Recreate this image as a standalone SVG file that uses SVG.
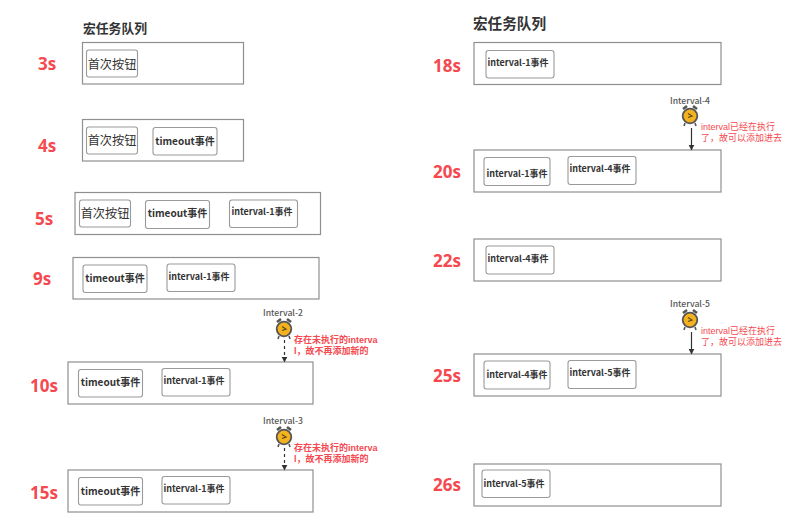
<svg xmlns="http://www.w3.org/2000/svg" width="804" height="525" viewBox="0 0 804 525">
<style>
text{font-family:"Noto Sans CJK SC","Liberation Sans",sans-serif}
.t{font-size:12.8px;font-weight:700;fill:#333}
.s{font-size:17px;font-weight:700;fill:#f5484f;text-anchor:middle;font-family:"Open Sans","Noto Sans",sans-serif}
.q{fill:#fff;stroke:#8f8f8f;stroke-width:1.2}
.b{fill:#fff;stroke:#9a9a9a;stroke-width:1.1}
.l{font-size:10px;font-weight:700;fill:#333;text-anchor:middle}
.i{font-size:9px;font-weight:700;fill:#333;text-anchor:middle}
.f{font-size:12.2px;fill:#333;text-anchor:middle}
.n{font-size:8.6px;fill:#555;text-anchor:middle;font-weight:500}
.r{font-size:9px;fill:#f5484f;font-family:"Liberation Sans","Noto Sans CJK SC",sans-serif}
.c{stroke:#333;stroke-width:1.2;fill:none}
.d{stroke-dasharray:3 3}
</style>
<defs>
<marker id="a" markerWidth="6" markerHeight="6" refX="4.5" refY="2.5" orient="auto"><path d="M0 0L5 2.5L0 5z" fill="#333"/></marker>
<g id="clock">
<path d="M-7 -7L-3 -10M7 -7L3 -10" stroke="#555" stroke-width="2.5"/>
<path d="M-5 7L-6 10M5 7L6 10" stroke="#555" stroke-width="1.6"/>
<circle r="7.3" fill="#f4b21f" stroke="#555" stroke-width="1.8"/>
<path d="M-2 -2.5L2 0L-2 1.5" fill="none" stroke="#5a4a20" stroke-width="1.2"/>
</g>
</defs>

<g id="heading-left"><text class="t" x="83" y="33">宏任务队列</text></g>
<g id="heading-right"><text class="t" x="473" y="29" style="font-size:14.6px">宏任务队列</text></g>

<g id="row-3s">
<text class="s" x="47" y="70">3s</text>
<rect class="q" x="82.500" y="42.500" width="161" height="41.500"/>
<rect class="b" x="86.500" y="50" width="51" height="27" rx="2.500"/><text class="f" x="112" y="68.500">首次按钮</text>
</g>
<g id="row-4s">
<text class="s" x="47" y="152">4s</text>
<rect class="q" x="82.500" y="119.500" width="161" height="41.500"/>
<rect class="b" x="86.500" y="127" width="51" height="27" rx="2.500"/><text class="f" x="112" y="145">首次按钮</text>
<rect class="b" x="153" y="127.500" width="64" height="27.500" rx="2.500"/><text class="l" x="185" y="144.500">timeout事件</text>
</g>
<g id="row-5s">
<text class="s" x="44" y="225">5s</text>
<rect class="q" x="75" y="192.500" width="245.500" height="42"/>
<rect class="b" x="79.500" y="200" width="51" height="27" rx="2.500"/><text class="f" x="105" y="218">首次按钮</text>
<rect class="b" x="145.500" y="200.500" width="64" height="28" rx="2.500"/><text class="l" x="177.500" y="217">timeout事件</text>
<rect class="b" x="229.500" y="200" width="68" height="27.500" rx="2.500"/><text class="i" x="262" y="215">interval-1事件</text>
</g>
<g id="row-9s">
<text class="s" x="42" y="285">9s</text>
<rect class="q" x="73" y="257.500" width="246" height="41.500"/>
<rect class="b" x="83" y="265" width="64" height="27.500" rx="2.500"/><text class="l" x="115" y="281.500">timeout事件</text>
<rect class="b" x="167" y="264" width="68" height="27.500" rx="2.500"/><text class="i" x="199" y="279.500">interval-1事件</text>
</g>
<g id="row-10s">
<text class="s" x="44" y="392">10s</text>
<rect class="q" x="68" y="362" width="245" height="42"/>
<rect class="b" x="78.500" y="369.500" width="64" height="27.500" rx="2.500"/><text class="l" x="110.500" y="386">timeout事件</text>
<rect class="b" x="162" y="368.500" width="68" height="27.500" rx="2.500"/><text class="i" x="194" y="384">interval-1事件</text>
</g>
<g id="row-15s">
<text class="s" x="44" y="499">15s</text>
<rect class="q" x="68" y="470" width="245" height="42"/>
<rect class="b" x="78.500" y="477.500" width="64" height="27.500" rx="2.500"/><text class="l" x="110.500" y="494.500">timeout事件</text>
<rect class="b" x="162" y="476.500" width="68" height="27.500" rx="2.500"/><text class="i" x="194" y="492">interval-1事件</text>
</g>
<g id="row-18s">
<text class="s" x="447" y="72">18s</text>
<rect class="q" x="474" y="42.500" width="247" height="42"/>
<rect class="b" x="486" y="50.500" width="68" height="27.500" rx="2.500"/><text class="i" x="518" y="66">interval-1事件</text>
</g>
<g id="row-20s">
<text class="s" x="447" y="178">20s</text>
<rect class="q" x="474" y="150" width="247" height="42"/>
<rect class="b" x="484" y="157.500" width="66" height="28" rx="2.500"/><text class="i" x="517" y="177">interval-1事件</text>
<rect class="b" x="568" y="156.500" width="68" height="28" rx="2.500"/><text class="i" x="600" y="172">interval-4事件</text>
</g>
<g id="row-22s">
<text class="s" x="447" y="267">22s</text>
<rect class="q" x="474" y="239" width="247" height="42"/>
<rect class="b" x="486" y="246" width="68" height="28" rx="2.500"/><text class="i" x="518" y="262">interval-4事件</text>
</g>
<g id="row-25s">
<text class="s" x="447" y="382">25s</text>
<rect class="q" x="474" y="354" width="247" height="42"/>
<rect class="b" x="484" y="361" width="66" height="28" rx="2.500"/><text class="i" x="517" y="378">interval-4事件</text>
<rect class="b" x="568" y="360.500" width="68" height="28" rx="2.500"/><text class="i" x="600" y="376">interval-5事件</text>
</g>
<g id="row-26s">
<text class="s" x="447" y="491">26s</text>
<rect class="q" x="474" y="464" width="247" height="42"/>
<rect class="b" x="482" y="470" width="68" height="27.500" rx="2.500"/><text class="i" x="514" y="487">interval-5事件</text>
</g>

<g id="timer-2"><text class="n" x="283" y="316">Interval-2</text><use href="#clock" x="284" y="329"/>
<text class="r" x="294" y="343" style="font-weight:700">存在未执行的interva</text><text class="r" x="294" y="354" style="font-weight:700">l，故不再添加新的</text></g>
<g id="timer-3"><text class="n" x="283" y="424">Interval-3</text><use href="#clock" x="284" y="437"/>
<text class="r" x="294" y="451" style="font-weight:700">存在未执行的interva</text><text class="r" x="294" y="462" style="font-weight:700">l，故不再添加新的</text></g>
<g id="timer-4"><text class="n" x="690" y="104">Interval-4</text><use href="#clock" x="690" y="116"/>
<text class="r" x="701" y="130">interval已经在执行</text><text class="r" x="701" y="141">了，故可以添加进去</text></g>
<g id="timer-5"><text class="n" x="690" y="307">Interval-5</text><use href="#clock" x="690" y="320"/>
<text class="r" x="701" y="334">interval已经在执行</text><text class="r" x="701" y="345">了，故可以添加进去</text></g>

<g id="connectors">
<path class="c d" d="M284.500 340V362" marker-end="url(#a)"/>
<path class="c d" d="M284.500 448V470" marker-end="url(#a)"/>
<path class="c" d="M691.500 128V150" marker-end="url(#a)"/>
<path class="c" d="M691.500 332V354" marker-end="url(#a)"/>
</g>
</svg>
